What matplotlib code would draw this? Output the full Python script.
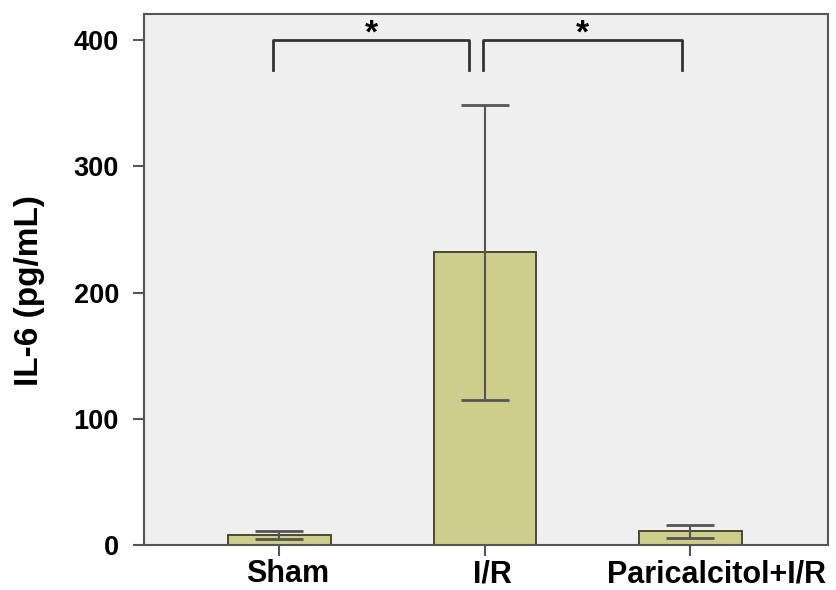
import matplotlib.pyplot as plt
import matplotlib.transforms as mtransforms

groups = ["Sham", "I/R", "Paricalcitol+I/R"]
means = [8, 232, 11]
errors = [3, 117, 5]

# significance brackets: (x_start, x_end, label)
brackets = [(-0.03, 0.925, "*"), (0.99, 1.96, "*")]
bracket_top = 400
bracket_leg = 376

plt.rcParams['font.family'] = ['Liberation Sans', 'DejaVu Sans']
plt.rcParams['font.weight'] = 'bold'

fig = plt.figure(figsize=(8.37, 5.90), dpi=100)
ax = fig.add_axes([0.172, 0.076, 0.817, 0.9])
ax.set_facecolor('#efefef')

x = list(range(len(groups)))
ax.bar(x, means, width=0.5, color='#cdcd8c', edgecolor='#4a4a32', linewidth=1.4, zorder=2)
ax.errorbar(x, means, yerr=errors, fmt='none', ecolor='#555555', elinewidth=1.5,
            capsize=17, capthick=2, zorder=3)

for x0, x1, label in brackets:
    ax.plot([x0, x0, x1, x1], [bracket_leg, bracket_top, bracket_top, bracket_leg],
            color='#333333', linewidth=2, zorder=4)
    ax.text((x0 + x1) / 2, bracket_top - 2, label, ha='center', va='baseline',
            fontsize=24, fontweight='bold')

ax.set_xlim(-0.66, 2.67)
ax.set_ylim(0, 420.6)
ax.set_xticks(x)
ax.set_xticklabels(groups)
ax.set_yticks([0, 100, 200, 300, 400])
ax.tick_params(axis='both', length=8, width=1.5, color='#555555', direction='out')
ax.tick_params(axis='y', labelsize=19.5, pad=10)
ax.tick_params(axis='x', labelsize=22, pad=2)

# nudge the category labels slightly to the right
for lbl, dx in zip(ax.get_xticklabels(), [8, 8, 26]):
    lbl.set_transform(lbl.get_transform() +
                      mtransforms.ScaledTranslation(dx / 100, 0, fig.dpi_scale_trans))

ax.set_ylabel('IL-6 (pg/mL)', fontsize=24, fontweight='bold')
ax.yaxis.set_label_coords(-0.145, 0.479)

for spine in ax.spines.values():
    spine.set_color('#555555')
    spine.set_linewidth(1.5)

fig.savefig('out.png', dpi=100)
